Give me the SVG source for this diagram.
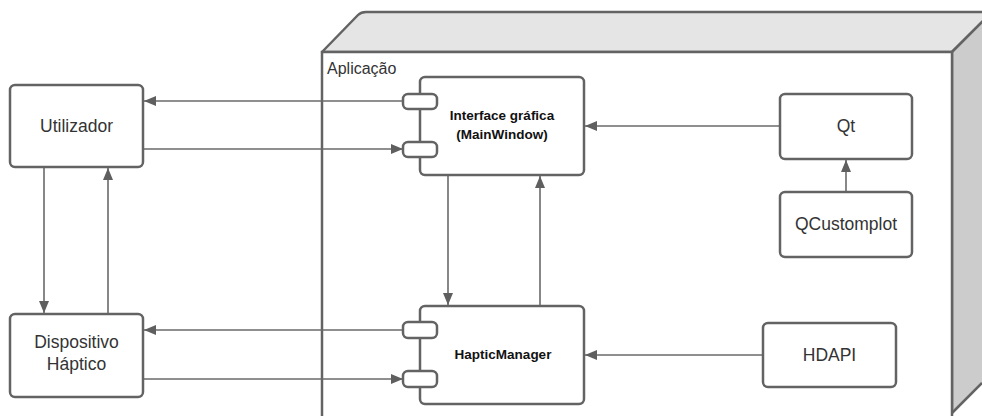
<svg xmlns="http://www.w3.org/2000/svg" width="982" height="416" viewBox="0 0 982 416">
<defs>
<marker id="arr" markerWidth="12" markerHeight="10" refX="12" refY="5" orient="auto" markerUnits="userSpaceOnUse">
<path d="M0,0 L12,5 L0,10 Z" fill="#5f5f5f"/>
</marker>
<style>
.box{fill:#fff;stroke:#636363;stroke-width:2.5}
.port{fill:#fff;stroke:#636363;stroke-width:2.5}
.ln{fill:none;stroke:#6a6a6a;stroke-width:1.6;marker-end:url(#arr)}
.t{font-family:"Liberation Sans",Arial,sans-serif;font-size:17.5px;fill:#333;text-anchor:middle}
.b{font-family:"Liberation Sans",Arial,sans-serif;font-size:13.5px;font-weight:bold;fill:#111;text-anchor:middle}
</style>
</defs>
<rect width="982" height="416" fill="#fff"/>
<g id="aplicacao">
<path d="M322,52 L358,15 Q361,12 366,12 L992,12 L952,52 Z" fill="#e5e5e5" stroke="#636363" stroke-width="2.5" stroke-linejoin="round"/>
<path d="M952,52 L992,12 L992,420 L952,420 Z" fill="#cccccc" stroke="#636363" stroke-width="2.5"/>
<path d="M952,413 L982,383 L982,420 L952,420 Z" fill="#fff" stroke="none"/>
<path d="M952,413 L982,383" stroke="#636363" stroke-width="2.5"/>
<rect x="322" y="52" width="630" height="380" fill="#fff" stroke="#636363" stroke-width="2.5"/>
<text x="327" y="74" style="font-family:'Liberation Sans',Arial,sans-serif;font-size:16px;fill:#333">Aplicação</text>
</g>
<g id="connectors">
<line class="ln" x1="403" y1="101" x2="144" y2="101"/>
<line class="ln" x1="143" y1="149" x2="403" y2="149"/>
<line class="ln" x1="44" y1="167" x2="44" y2="313"/>
<line class="ln" x1="108" y1="314" x2="108" y2="168"/>
<line class="ln" x1="403" y1="330" x2="144" y2="330"/>
<line class="ln" x1="143" y1="379" x2="403" y2="379"/>
<line class="ln" x1="448" y1="175" x2="448" y2="305"/>
<line class="ln" x1="540" y1="306" x2="540" y2="176"/>
<line class="ln" x1="780" y1="126" x2="585" y2="126"/>
<line class="ln" x1="846" y1="192" x2="846" y2="160"/>
<line class="ln" x1="763" y1="355" x2="585" y2="355"/>
</g>
<g id="utilizador">
<rect class="box" x="10" y="85" width="133" height="82" rx="5"/>
<text class="t" x="76.5" y="132">Utilizador</text>
</g>
<g id="dispositivo">
<rect class="box" x="10" y="314" width="133" height="83" rx="5"/>
<text class="t" x="76.5" y="348">Dispositivo</text>
<text class="t" x="76.5" y="370">Háptico</text>
</g>
<g id="interface">
<rect class="box" x="420" y="77" width="164" height="98" rx="5"/>
<rect class="port" x="403" y="94" width="34" height="15" rx="5"/>
<rect class="port" x="403" y="142" width="34" height="15" rx="5"/>
<text class="b" x="502" y="120">Interface gráfica</text>
<text class="b" x="502" y="139">(MainWindow)</text>
</g>
<g id="hapticmanager">
<rect class="box" x="420" y="306" width="164" height="98" rx="5"/>
<rect class="port" x="403" y="322" width="34" height="16" rx="5"/>
<rect class="port" x="403" y="371" width="34" height="16" rx="5"/>
<text class="b" x="503" y="359">HapticManager</text>
</g>
<g id="qt">
<rect class="box" x="780" y="94" width="132" height="65" rx="5"/>
<text class="t" x="846" y="132">Qt</text>
</g>
<g id="qcustomplot">
<rect class="box" x="780" y="192" width="132" height="65" rx="5"/>
<text class="t" x="846" y="230">QCustomplot</text>
</g>
<g id="hdapi">
<rect class="box" x="763" y="323" width="133" height="64" rx="5"/>
<text class="t" x="829.5" y="361">HDAPI</text>
</g>
</svg>
